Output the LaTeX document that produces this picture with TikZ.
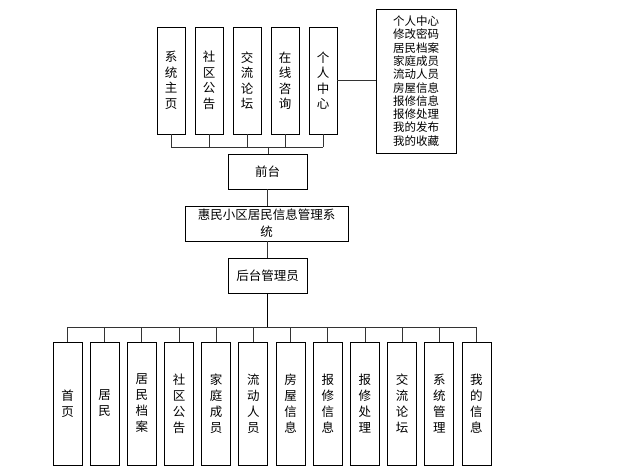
\documentclass[tikz,border=0pt]{standalone}
\usepackage{fontspec}
\newfontfamily\cjk{Noto Sans CJK SC}
\begin{document}
\begin{tikzpicture}[x=1pt,y=-1pt,
  box/.style={draw=black,line width=0.9pt,inner sep=0pt,align=center},
  vbox/.style={box,minimum width=28pt,minimum height=107pt,font={\cjk\fontsize{12.5}{15.5}\selectfont}},
  bbox/.style={box,minimum width=29pt,minimum height=123pt,font={\cjk\fontsize{12.5}{16}\selectfont}},
  hbox/.style={box,minimum width=79pt,minimum height=35pt,font={\cjk\fontsize{12.5}{17}\selectfont}},
  conn/.style={draw=black!80,line width=0.8pt},
  thick conn/.style={draw=black,line width=1.8pt}]
\useasboundingbox (0,0) rectangle (622,468);
% top boxes
\node[vbox] (t1) at (171,80.5) {系\\统\\主\\页};
\node[vbox] (t2) at (209,80.5) {社\\区\\公\\告};
\node[vbox] (t3) at (247,80.5) {交\\流\\论\\坛};
\node[vbox] (t4) at (285,80.5) {在\\线\\咨\\询};
\node[vbox] (t5) at (323,80.5) {个\\人\\中\\心};
\node[box,minimum width=80pt,minimum height=144pt,font={\cjk\fontsize{11.5}{13.3}\selectfont}] (r) at (416,81)
  {个人中心\\修改密码\\居民档案\\家庭成员\\流动人员\\房屋信息\\报修信息\\报修处理\\我的发布\\我的收藏};
% middle
\node[hbox] (qt) at (267.5,171.5) {前台};
\node[hbox,minimum width=163pt] (sys) at (266.5,223.5) {惠民小区居民信息管理系\\统};
\node[hbox] (ht) at (267.5,275.5) {后台管理员};
% bottom boxes
\foreach \t [count=\i from 0] in {{首\\页},{居\\民},{居\\民\\档\\案},{社\\区\\公\\告},{家\\庭\\成\\员},{流\\动\\人\\员},{房\\屋\\信\\息},{报\\修\\信\\息},{报\\修\\处\\理},{交\\流\\论\\坛},{系\\统\\管\\理},{我\\的\\信\\息}}{
  \node[bbox] (b\i) at ({67.5+37.18*\i},403.5) {\t};
}
% connectors
\coordinate (tb) at (268,147);
\foreach \i in {1,...,5}{ \draw[conn] (t\i.south) -- (t\i.south |- tb); }
\draw[conn] (t1.south |- tb) -- (t5.south |- tb);
\draw[conn] (tb) -- (tb |- qt.north);
\draw[conn] (t5.east) -- (r.west |- t5.east);
\draw[conn] (qt.south) -- (qt.south |- sys.north);
\draw[conn] (sys.south -| qt.south) -- (qt.south |- ht.north);
\coordinate (bb) at (267.5,327);
\draw[thick conn] (ht.south) -- (bb);
\foreach \i in {0,...,11}{ \draw[conn] (b\i.north) -- (b\i.north |- bb); }
\draw[conn] (b0.north |- bb) -- (b11.north |- bb);
\end{tikzpicture}
\end{document}
